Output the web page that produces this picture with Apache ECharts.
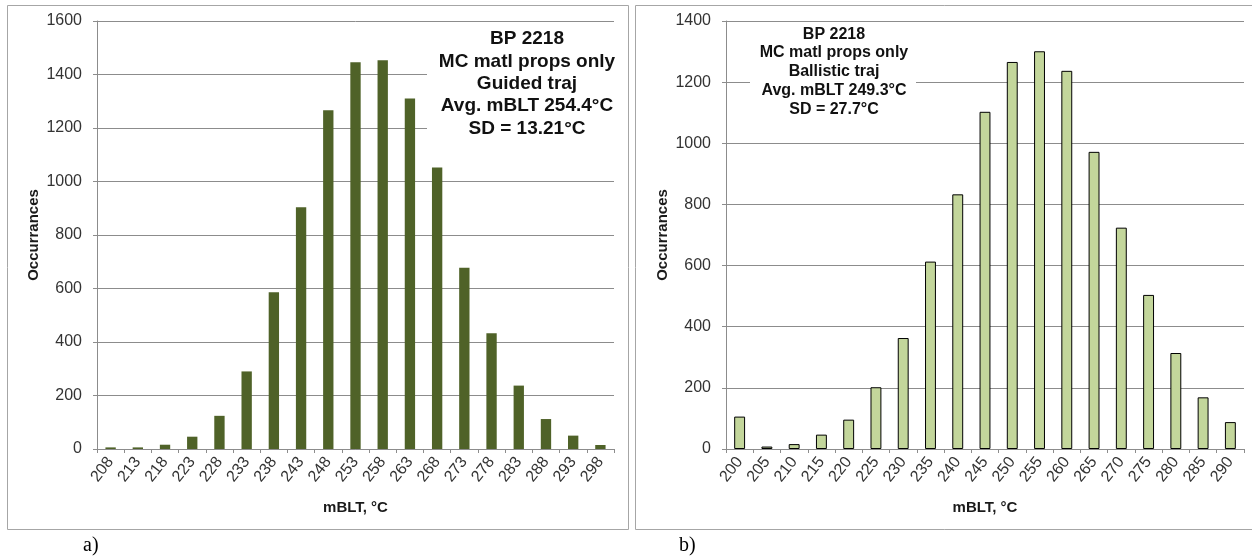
<!DOCTYPE html>
<html>
<head>
<meta charset="utf-8">
<script src="https://cdn.jsdelivr.net/npm/echarts@6/dist/echarts.min.js"></script>
<style>
  html, body { margin: 0; padding: 0; background: #fff; }
  #chart { width: 1252px; height: 560px; }
</style>
</head>
<body>
<div id="chart"></div>
<script>
// guided trajectory (a)
var guidedTemps = ['208', '213', '218', '223', '228', '233', '238', '243', '248', '253',
  '258', '263', '268', '273', '278', '283', '288', '293', '298'];
var guidedCounts = [6, 6, 16, 46, 124, 290, 586, 904, 1266, 1446,
  1453, 1310, 1052, 678, 433, 237, 112, 50, 15];
var guidedNote = ['BP 2218', 'MC matl props only', 'Guided traj', 'Avg. mBLT 254.4°C', 'SD = 13.21°C'];

// ballistic trajectory (b)
var ballisticTemps = ['200', '205', '210', '215', '220', '225', '230', '235', '240', '245',
  '250', '255', '260', '265', '270', '275', '280', '285', '290'];
var ballisticCounts = [106, 8, 16, 47, 96, 202, 363, 613, 833, 1103,
  1266, 1301, 1237, 972, 724, 504, 314, 169, 88];
var ballisticNote = ['BP 2218', 'MC matl props only', 'Ballistic traj', 'Avg. mBLT 249.3°C', 'SD = 27.7°C'];

var font = 'Liberation Sans, Arial, sans-serif';
var gridColor = '#8c8c8c';

function xAxisFor(idx, cats) {
  return {
    type: 'category',
    gridIndex: idx,
    data: cats,
    name: 'mBLT, °C',
    nameLocation: 'middle',
    nameGap: 51,
    nameTextStyle: { fontFamily: font, fontSize: 15, fontWeight: 'bold', color: '#1a1a1a' },
    axisLine: { lineStyle: { color: gridColor } },
    axisTick: { show: true, length: 4, lineStyle: { color: gridColor } },
    axisLabel: { rotate: 52, margin: 10, fontFamily: font, fontSize: 16, color: '#333' }
  };
}

function yAxisFor(idx, max) {
  return {
    type: 'value',
    gridIndex: idx,
    min: 0,
    max: max,
    interval: 200,
    name: 'Occurrances',
    nameLocation: 'middle',
    nameRotate: 90,
    nameGap: 56,
    nameTextStyle: { fontFamily: font, fontSize: 15, fontWeight: 'bold', color: '#1a1a1a' },
    axisLine: { show: true, lineStyle: { color: gridColor } },
    axisTick: { show: true, length: 4, lineStyle: { color: gridColor } },
    axisLabel: { margin: 15, fontFamily: font, fontSize: 16, color: '#333',
      formatter: function (v) { return String(v); } },
    splitLine: { lineStyle: { color: gridColor } }
  };
}

var chart = echarts.init(document.getElementById('chart'));
chart.setOption({
  animation: false,
  backgroundColor: '#fff',
  grid: [
    { left: 97, top: 21, width: 517, height: 428 },
    { left: 726, top: 21, width: 518, height: 428 }
  ],
  xAxis: [xAxisFor(0, guidedTemps), xAxisFor(1, ballisticTemps)],
  yAxis: [yAxisFor(0, 1600), yAxisFor(1, 1400)],
  series: [
    {
      type: 'bar', xAxisIndex: 0, yAxisIndex: 0,
      data: guidedCounts, barWidth: '38%',
      itemStyle: { color: '#4f6228' }
    },
    {
      type: 'bar', xAxisIndex: 1, yAxisIndex: 1,
      data: ballisticCounts, barWidth: '40%',
      itemStyle: { color: '#c3d69b', borderColor: '#000', borderWidth: 1 }
    }
  ],
  graphic: [
    // panel frames
    { type: 'rect', z: 0, shape: { x: 7.5, y: 5.5, width: 621, height: 524 },
      style: { fill: 'none', stroke: '#a6a6a6', lineWidth: 1 } },
    { type: 'rect', z: 0, shape: { x: 635.5, y: 5.5, width: 630, height: 524 },
      style: { fill: 'none', stroke: '#a6a6a6', lineWidth: 1 } },
    // annotation boxes
    { type: 'rect', z: 100, shape: { x: 427, y: 29, width: 199, height: 111 },
      style: { fill: '#fff' } },
    { type: 'text', z: 101, style: {
        text: guidedNote.join('\n'), x: 527, y: 28, textAlign: 'center', textVerticalAlign: 'top',
        fontFamily: font, fontSize: 19, fontWeight: 'bold', lineHeight: 22.3, fill: '#111' } },
    { type: 'rect', z: 100, shape: { x: 750, y: 25, width: 166, height: 96 },
      style: { fill: '#fff' } },
    { type: 'text', z: 101, style: {
        text: ballisticNote.join('\n'), x: 834, y: 25, textAlign: 'center', textVerticalAlign: 'top',
        fontFamily: font, fontSize: 16, fontWeight: 'bold', lineHeight: 18.7, fill: '#111' } },
    // panel captions
    { type: 'text', style: { text: 'a)', x: 83, y: 546, textVerticalAlign: 'middle',
        fontFamily: 'Liberation Serif, Times New Roman, serif', fontSize: 20, fill: '#000' } },
    { type: 'text', style: { text: 'b)', x: 679, y: 546, textVerticalAlign: 'middle',
        fontFamily: 'Liberation Serif, Times New Roman, serif', fontSize: 20, fill: '#000' } }
  ]
});
</script>
</body>
</html>
